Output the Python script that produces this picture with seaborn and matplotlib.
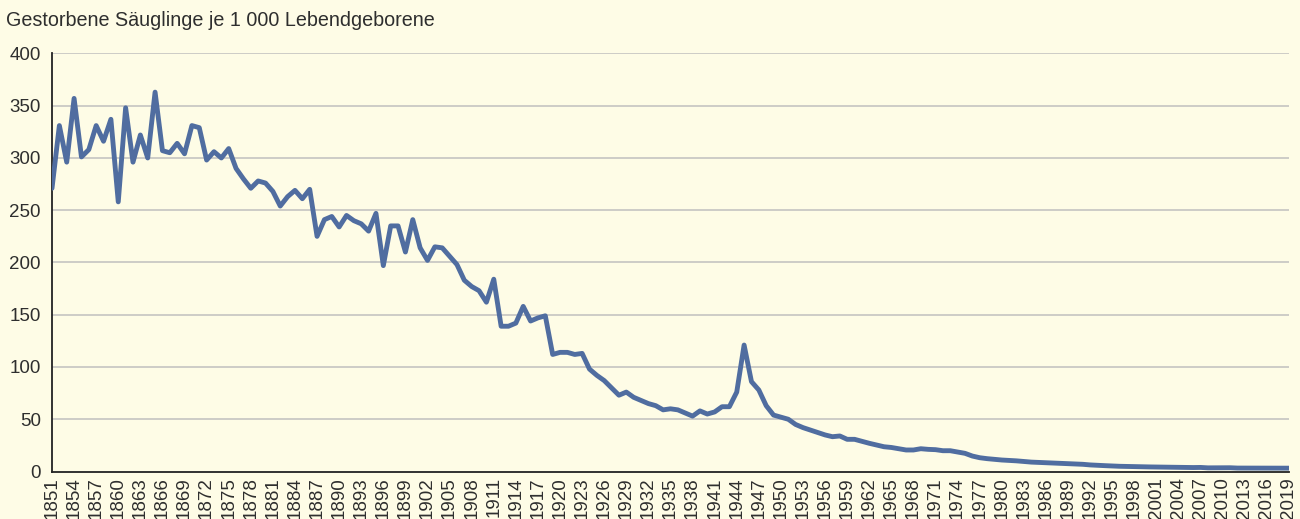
import numpy as np
import pandas as pd
import matplotlib.pyplot as plt
import seaborn as sns

# =====================================
# Data
# =====================================

years = list(range(1851, 2020))

rate_1851_1900 = [
    271, 331, 296, 357, 301, 308, 331, 316, 337, 258,
    348, 296, 322, 300, 363, 307, 305, 314, 304, 331,
    329, 298, 306, 300, 309, 290, 280, 271, 278, 276,
    268, 254, 263, 269, 261, 270, 225, 241, 244, 234,
    245, 240, 237, 230, 247, 197, 235, 235, 210, 241,
]
rate_1901_1950 = [
    214, 202, 215, 214, 206, 198, 183, 177, 173, 162,
    184, 139, 139, 142, 158, 144, 147, 149, 112, 114,
    114, 112, 113, 98, 92, 87, 80, 73, 76, 71,
    68, 65, 63, 59, 60, 59, 56, 53, 58, 55,
    57, 62, 62, 76, 121, 86, 78, 63, 54, 52,
]
rate_1951_2000 = [
    50, 45, 42, 39.7, 37.5, 35, 33.3, 34, 30.8, 30.8,
    28.9, 27, 25.4, 23.7, 23, 21.8, 20.6, 20.6, 21.8, 21.2,
    20.9, 19.9, 19.9, 18.7, 17.4, 14.8, 13.2, 12.3, 11.6, 11,
    10.6, 10.2, 9.6, 9.0, 8.7, 8.4, 8.2, 7.8, 7.6, 7.2,
    6.9, 6.3, 5.9, 5.6, 5.3, 5.0, 4.9, 4.7, 4.5, 4.4,
]
rate_2001_2019 = [
    4.3, 4.2, 4.2, 4.1, 3.9, 3.8, 3.9, 3.5, 3.5, 3.4,
    3.6, 3.3, 3.3, 3.2, 3.3, 3.4, 3.3, 3.2, 3.2,
]

rates = rate_1851_1900 + rate_1901_1950 + rate_1951_2000 + rate_2001_2019

y_ticks = [0, 50, 100, 150, 200, 250, 300, 350, 400]
x_ticks = list(range(1851, 2020, 3))

title_text = "Gestorbene Säuglinge je 1 000 Lebendgeborene"

df = pd.DataFrame({"Jahr": years, "Rate": rates})

# =====================================
# Style
# =====================================

bg = "#FEFCE6"
line_color = "#506DA0"
text_color = "#2E2E2E"

sns.set_theme(style="white")
plt.rcParams["font.family"] = ["Liberation Sans", "DejaVu Sans"]

fig = plt.figure(figsize=(13, 5.19), dpi=100, facecolor=bg)
ax = fig.add_axes([0.04, 0.0915, 0.9515, 0.8055])
ax.set_facecolor(bg)

# =====================================
# Plot
# =====================================

for v in y_ticks[1:]:
    ax.axhline(v, color="#C9C9C4", lw=1.3, zorder=1)

sns.lineplot(
    data=df,
    x="Jahr",
    y="Rate",
    color=line_color,
    linewidth=3.5,
    ax=ax,
    zorder=3,
)

ax.set_xlim(1851, 2019)
ax.set_ylim(0, 400)
ax.set_xticks(x_ticks)
ax.set_yticks(y_ticks)
ax.set_xticklabels([str(x) for x in x_ticks], rotation=90)

ax.tick_params(axis="both", direction="in", length=7.5, width=1.2,
               color="#222222", labelsize=13.5, labelcolor=text_color)
ax.tick_params(axis="y", pad=8)
ax.tick_params(axis="x", pad=4)

for side in ["top", "right"]:
    ax.spines[side].set_visible(False)
for side in ["left", "bottom"]:
    ax.spines[side].set_color("#222222")
    ax.spines[side].set_linewidth(1.3)

ax.set_xlabel("")
ax.set_ylabel("")

fig.text(0.005, 1 - 20 / 519, title_text, fontsize=14.2,
         color=text_color, va="center", ha="left")

plt.savefig("out.png", dpi=100, facecolor=bg)
plt.close()
